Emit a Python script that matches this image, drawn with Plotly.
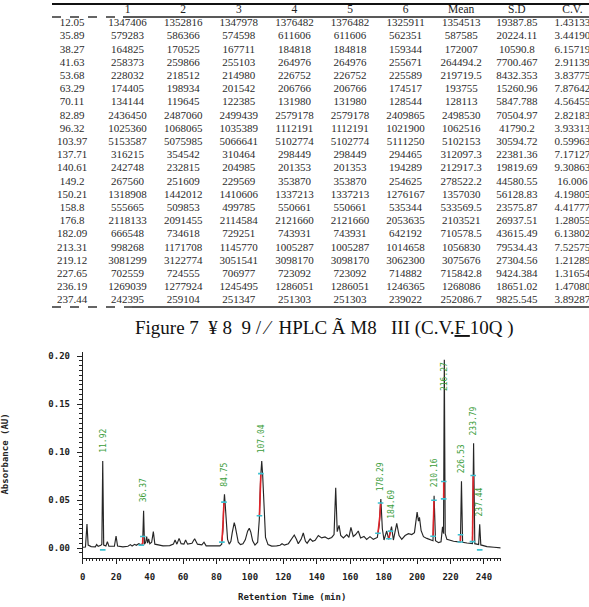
import numpy as np
import plotly.graph_objects as go

# ---------------- table data ----------------
table_header = ["", "1", "2", "3", "4", "5", "6", "Mean", "S.D", "C.V."]
rt_col = ["12.05", "35.89", "38.27", "41.63", "53.68", "63.29", "70.11", "82.89", "96.32", "103.97",
          "137.71", "140.61", "149.2", "150.21", "158.8", "176.8", "182.09", "213.31", "219.12",
          "227.65", "236.19", "237.44"]
col1 = ["1347406", "579283", "164825", "258373", "228032", "174405", "134144", "2436450", "1025360",
        "5153587", "316215", "242748", "267560", "1318908", "555665", "2118133", "666548", "998268",
        "3081299", "702559", "1269039", "242395"]
col2 = ["1352816", "586366", "170525", "259866", "218512", "198934", "119645", "2487060", "1068065",
        "5075985", "354542", "232815", "251609", "1442012", "509853", "2091455", "734618", "1171708",
        "3122774", "724555", "1277924", "259104"]
col3 = ["1347978", "574598", "167711", "255103", "214980", "201542", "122385", "2499439", "1035389",
        "5066641", "310464", "204985", "229569", "1410606", "499785", "2114584", "729251", "1145770",
        "3051541", "706977", "1245495", "251347"]
col4 = ["1376482", "611606", "184818", "264976", "226752", "206766", "131980", "2579178", "1112191",
        "5102774", "298449", "201353", "353870", "1337213", "550661", "2121660", "743931", "1005287",
        "3098170", "723092", "1286051", "251303"]
col5 = ["1376482", "611606", "184818", "264976", "226752", "206766", "131980", "2579178", "1112191",
        "5102774", "298449", "201353", "353870", "1337213", "550661", "2121660", "743931", "1005287",
        "3098170", "723092", "1286051", "251303"]
col6 = ["1325911", "562351", "159344", "255671", "225589", "174517", "128544", "2409865", "1021900",
        "5111250", "294465", "194289", "254625", "1276167", "535344", "2053635", "642192", "1014658",
        "3062300", "714882", "1246365", "239022"]
mean_col = ["1354513", "587585", "172007", "264494.2", "219719.5", "193755", "128113", "2498530",
            "1062516", "5102153", "312097.3", "212917.3", "278522.2", "1357030", "533569.5", "2103521",
            "710578.5", "1056830", "3075676", "715842.8", "1268086", "252086.7"]
sd_col = ["19387.85", "20224.11", "10590.8", "7700.467", "8432.353", "15260.96", "5847.788", "70504.97",
          "41790.2", "30594.72", "22381.36", "19819.69", "44580.55", "56128.83", "23575.87", "26937.51",
          "43615.49", "79534.43", "27304.56", "9424.384", "18651.02", "9825.545"]
cv_col = ["1.43133", "3.44190", "6.15719", "2.91139", "3.83775", "7.87642", "4.56455", "2.82183",
          "3.93313", "0.59963", "7.17127", "9.30863", "16.006", "4.19805", "4.41777", "1.28055",
          "6.13802", "7.52575", "1.21289", "1.31654", "1.47080", "3.89287"]
table_columns = [rt_col, col1, col2, col3, col4, col5, col6, mean_col, sd_col, cv_col]

caption = "Figure 7  ¥ 8  9 / ⁄  HPLC Ã M8   III (C.V.<u>F </u>10Q )"

# ---------------- chromatogram data ----------------
trace_time = [0.0, 1.6, 2.5, 3.2, 5.0, 7.5, 8.3, 9.2, 10.8, 11.4, 11.92, 12.5, 13.8, 14.7, 15.6, 18.9,
              19.9, 20.8, 24.0, 27.0, 28.5, 29.5, 31.0, 32.0, 33.5, 35.0, 35.8, 36.37, 36.9, 37.6, 38.2,
              38.8, 39.4, 40.1, 41.2, 42.2, 43.1, 45.0, 48.0, 52.0, 54.2, 55.2, 56.3, 57.6, 58.8, 60.5,
              61.5, 62.7, 65.3, 66.9, 68.6, 71.2, 72.5, 73.8, 78.0, 82.0, 83.1, 83.8, 84.3, 84.75, 85.2,
              85.8, 86.6, 87.6, 88.6, 89.4, 90.0, 90.6, 91.2, 92.0, 93.0, 94.3, 95.8, 97.2, 98.6, 99.6,
              100.5, 101.6, 103.0, 104.6, 105.6, 106.4, 107.04, 107.6, 108.4, 109.3, 110.8, 113.0, 116.0,
              118.0, 119.2, 120.6, 123.0, 124.8, 126.5, 127.8, 128.9, 130.6, 131.9, 133.2, 134.2, 136.0,
              137.5, 139.0, 140.9, 142.9, 144.9, 146.9, 148.9, 150.3, 151.3, 152.2, 153.3, 154.3, 155.9,
              157.9, 159.2, 160.4, 161.8, 163.2, 164.8, 166.2, 168.2, 169.8, 171.8, 173.8, 176.2, 177.4,
              178.29, 179.2, 180.2, 181.8, 183.0, 184.69, 185.8, 187.8, 189.2, 190.8, 192.8, 194.8,
              196.8, 198.4, 200.0, 200.8, 201.4, 202.4, 203.8, 205.8, 207.8, 209.5, 210.16, 211.0, 212.8,
              214.3, 215.2, 215.8, 216.27, 216.8, 217.8, 219.8, 221.8, 223.8, 225.9, 226.53, 227.2,
              229.8, 233.1, 233.79, 234.5, 236.8, 237.44, 238.1, 241.8, 246.0, 250.0]
trace_abs = [0.0008, 0.0010, 0.0250, 0.0030, 0.0015, 0.0012, 0.0036, 0.0018, 0.0028, 0.0040, 0.0906,
             0.0030, 0.0020, 0.0066, 0.0020, 0.0018, 0.0125, 0.0020, 0.0012, 0.0018, 0.0035, 0.0020,
             0.0038, 0.0028, 0.0045, 0.0030, 0.0045, 0.0389, 0.0040, 0.0060, 0.0118, 0.0050, 0.0095,
             0.0045, 0.0060, 0.0170, 0.0040, 0.0030, 0.0022, 0.0025, 0.0040, 0.0083, 0.0040, 0.0100,
             0.0045, 0.0040, 0.0083, 0.0040, 0.0050, 0.0097, 0.0040, 0.0032, 0.0060, 0.0022, 0.0018,
             0.0022, 0.0040, 0.0180, 0.0440, 0.0559, 0.0450, 0.0230, 0.0090, 0.0040, 0.0070, 0.0160,
             0.0235, 0.0264, 0.0225, 0.0130, 0.0060, 0.0035, 0.0045, 0.0085, 0.0175, 0.0205, 0.0165,
             0.0075, 0.0030, 0.0060, 0.0300, 0.0740, 0.0906, 0.0760, 0.0360, 0.0110, 0.0035, 0.0020,
             0.0022, 0.0028, 0.0045, 0.0030, 0.0045, 0.0095, 0.0135, 0.0090, 0.0045, 0.0090, 0.0156,
             0.0070, 0.0050, 0.0095, 0.0070, 0.0080, 0.0130, 0.0105, 0.0115, 0.0095, 0.0110, 0.0140,
             0.0628, 0.0170, 0.0236, 0.0130, 0.0104, 0.0140, 0.0110, 0.0215, 0.0120, 0.0140, 0.0177,
             0.0105, 0.0120, 0.0090, 0.0118, 0.0090, 0.0110, 0.0250, 0.0510, 0.0200, 0.0083, 0.0177,
             0.0090, 0.0222, 0.0083, 0.0257, 0.0130, 0.0090, 0.0130, 0.0149, 0.0140, 0.0160, 0.0375,
             0.0280, 0.0319, 0.0180, 0.0118, 0.0100, 0.0090, 0.0076, 0.0545, 0.0076, 0.0056, 0.0065,
             0.0222, 0.0150, 0.1960, 0.0150, 0.0090, 0.0076, 0.0070, 0.0066, 0.0063, 0.0694, 0.0060,
             0.0052, 0.0046, 0.1090, 0.0045, 0.0035, 0.0247, 0.0032, 0.0015, 0.0008, 0.0002]

peak_labels = ["11.92", "36.37", "84.75", "107.04", "178.29", "184.69", "210.16", "216.27", "226.53",
               "233.79", "237.44"]
peak_time = [11.92, 36.37, 84.75, 107.04, 178.29, 184.69, 210.16, 216.27, 226.53, 233.79, 237.44]
peak_height = [0.0906, 0.0389, 0.0559, 0.0906, 0.0510, 0.0222, 0.0545, 0.1960, 0.0694, 0.1090, 0.0247]
# fraction of peak height (above local base) covered by the red integration mark
red_lo = [0.0, 0.0, 0.08, 0.35, 0.15, 0.05, 0.10, 0.20, 0.00, 0.02, 0.0]
red_hi = [0.0, 0.25, 0.85, 0.85, 0.90, 0.65, 0.90, 0.30, 0.12, 0.68, 0.0]

x_ticks = list(range(0, 241, 20))
y_ticks = [0.00, 0.05, 0.10, 0.15, 0.20]

# ---------------- helpers ----------------
W, H = 589, 607
def px(x):
    return x / W
def py(y):
    return 1 - y / H

def left_flank(t_apex):
    """points of the rising flank just left of a peak apex (base -> apex)"""
    j = trace_time.index(t_apex)
    k = j
    while k > 0 and trace_abs[k - 1] < trace_abs[k]:
        k -= 1
    return trace_time[k:j + 1], trace_abs[k:j + 1]

fig = go.Figure()

# chromatogram
fig.add_trace(go.Scatter(x=trace_time, y=trace_abs, mode="lines",
                         line=dict(color="#262626", width=1.15), hoverinfo="skip",
                         xaxis="x", yaxis="y"))

# red integration marks + cyan end markers
rx, ry, cx, cy = [], [], [], []
for t, h, lo, hi in zip(peak_time, peak_height, red_lo, red_hi):
    ft, fa = left_flank(t)
    base = fa[0]
    if hi > lo:
        levels = np.linspace(base + lo * (h - base), base + hi * (h - base), 10)
        times = np.interp(levels, fa, ft)
        rx += [float(v) for v in times] + [None]
        ry += [float(v) for v in levels] + [None]
        cx += [float(times[0]), float(times[-1])]
        cy += [float(levels[0]), float(levels[-1])]
    else:
        cx.append(t)
        cy.append(-0.002)
fig.add_trace(go.Scatter(x=rx, y=ry, mode="lines", line=dict(color="#e0242a", width=1.6),
                         hoverinfo="skip", xaxis="x", yaxis="y"))
fig.add_trace(go.Scatter(x=cx, y=cy, mode="markers",
                         marker=dict(symbol="line-ew", size=4, line=dict(color="#3cc0d0", width=1.6)),
                         hoverinfo="skip", xaxis="x", yaxis="y"))

# table text (on its own hidden axes)
tfont = dict(family="Liberation Serif", size=11, color="#2b2b2b")
for ci, col in enumerate(table_columns):
    fig.add_trace(go.Scatter(x=[ci] * len(col), y=list(range(len(col))), mode="text", text=col,
                             textfont=tfont, textposition="middle center", hoverinfo="skip",
                             xaxis="x2", yaxis="y2", cliponaxis=False))
fig.add_trace(go.Scatter(x=list(range(len(table_header))), y=[-1] * len(table_header), mode="text",
                         text=table_header, textfont=dict(family="Liberation Serif", size=11.5, color="#222"),
                         textposition="middle center", hoverinfo="skip", xaxis="x2", yaxis="y2"))

# table rules
shapes = [
    dict(type="line", xref="paper", yref="paper", x0=px(52), x1=px(589), y0=py(4), y1=py(4),
         line=dict(color="#111", width=2)),
    dict(type="line", xref="paper", yref="paper", x0=px(52), x1=px(123), y0=py(17), y1=py(17),
         line=dict(color="#333", width=1.3, dash="dash")),
    dict(type="line", xref="paper", yref="paper", x0=px(123), x1=px(589), y0=py(17), y1=py(17),
         line=dict(color="#222", width=1.3)),
    dict(type="line", xref="paper", yref="paper", x0=px(52), x1=px(132), y0=py(307), y1=py(307),
         line=dict(color="#333", width=1.5, dash="dash")),
    dict(type="line", xref="paper", yref="paper", x0=px(132), x1=px(589), y0=py(307), y1=py(307),
         line=dict(color="#222", width=1.5)),
]

mono = dict(family="DejaVu Sans Mono", size=9, color="#222", weight="bold")
annotations = [
    dict(text=caption, xref="paper", yref="paper", x=px(324), y=py(328), xanchor="center",
         yanchor="middle", showarrow=False, font=dict(family="Liberation Serif", size=19, color="#111")),
    dict(text="Absorbance (AU)", xref="paper", yref="paper", x=px(5), y=py(454.6), xanchor="center",
         yanchor="middle", textangle=-90, showarrow=False, font=mono),
    dict(text="Retention Time (min)", xref="paper", yref="paper", x=px(291.7), y=py(597),
         xanchor="center", yanchor="middle", showarrow=False, font=mono),
]
for lab, t, h in zip(peak_labels, peak_time, peak_height):
    annotations.append(dict(text=lab, x=t, y=min(h, 0.155), xref="x", yref="y", xanchor="center",
                            yanchor="bottom", yshift=6, textangle=-90, showarrow=False,
                            font=dict(family="DejaVu Sans Mono", size=8, color="#3a9d3a")))

fig.update_layout(
    width=W, height=H, margin=dict(l=0, r=0, t=0, b=0),
    paper_bgcolor="white", plot_bgcolor="rgba(0,0,0,0)", showlegend=False,
    shapes=shapes, annotations=annotations,
    xaxis=dict(domain=[px(82.8), px(500.7)], range=[0, 250], anchor="y",
               showline=True, linecolor="#222", linewidth=1, mirror=False,
               tickvals=x_ticks, ticks="outside", ticklen=5, tickwidth=1, tickcolor="#222",
               minor=dict(dtick=2, tick0=0, ticks="outside", ticklen=2.5, tickcolor="#222", tickwidth=1),
               showgrid=False, zeroline=False, tickfont=mono, ticklabelstandoff=6, automargin=False),
    yaxis=dict(domain=[py(557.5), py(351.7)], range=[-0.0099, 0.2045], anchor="x",
               showline=True, linecolor="#222", linewidth=1,
               tickvals=y_ticks, tickformat=".2f", ticks="outside", ticklen=5, tickwidth=1,
               tickcolor="#222",
               minor=dict(dtick=0.005, tick0=0, ticks="outside", ticklen=2.5, tickcolor="#222", tickwidth=1),
               showgrid=False, zeroline=False, tickfont=mono, ticklabelstandoff=5, automargin=False),
    xaxis2=dict(domain=[0, 1], range=[(0 - 72) / 55.6, (589 - 72) / 55.6], anchor="y2",
                visible=False, fixedrange=True),
    yaxis2=dict(domain=[0, 1], range=[(607 - 23.5) / 13.2, -23.5 / 13.2], anchor="x2",
                visible=False, fixedrange=True),
)

fig.write_html("out.html")
